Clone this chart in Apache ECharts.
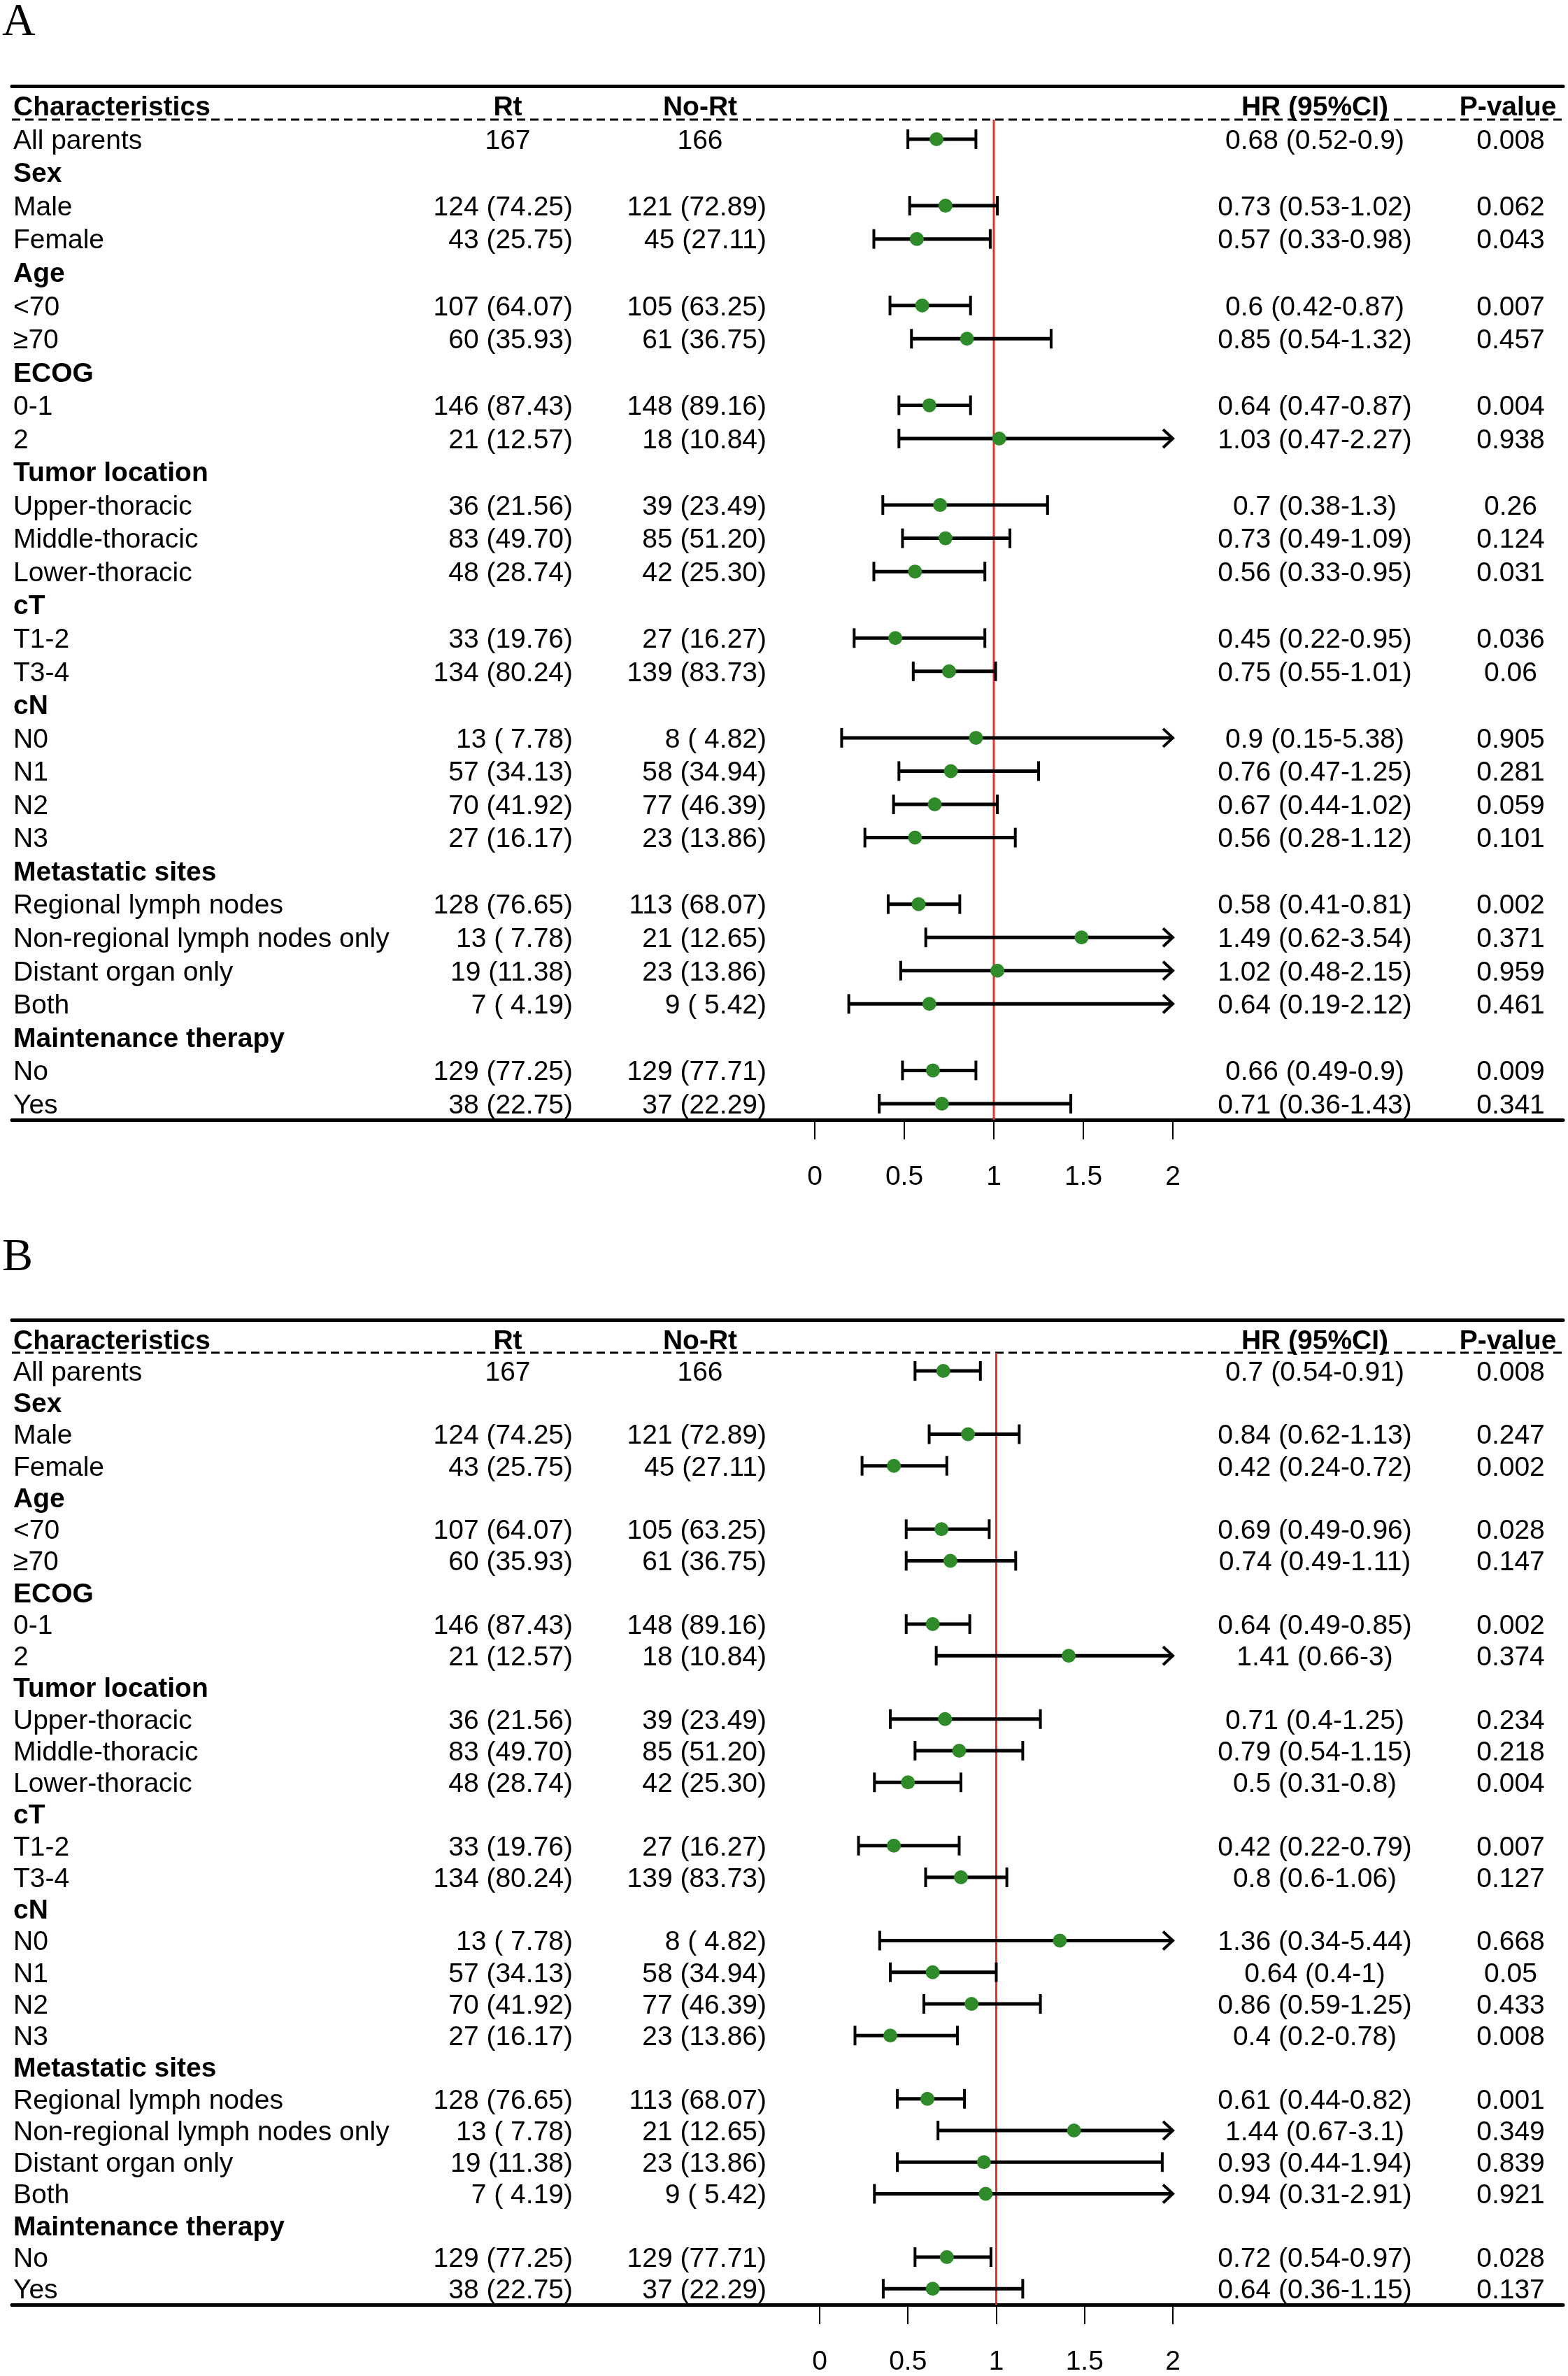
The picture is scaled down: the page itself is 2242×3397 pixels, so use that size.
<!DOCTYPE html>
<html><head><meta charset="utf-8">
<script src="https://cdn.jsdelivr.net/npm/echarts@6/dist/echarts.min.js"></script>
<style>html,body{margin:0;padding:0;background:#fff}#c{width:2242px;height:3397px}</style>
</head><body><div id="c"></div>
<script>
// ---------------- data ----------------
const headers = ['Characteristics', 'Rt', 'No-Rt', 'HR (95%CI)', 'P-value'];
const characteristics = ['All parents','Sex','Male','Female','Age','<70','≥70','ECOG','0-1','2',
  'Tumor location','Upper-thoracic','Middle-thoracic','Lower-thoracic','cT','T1-2','T3-4',
  'cN','N0','N1','N2','N3','Metastatic sites','Regional lymph nodes','Non-regional lymph nodes only',
  'Distant organ only','Both','Maintenance therapy','No','Yes'];
const groupHeaders = ['Sex','Age','ECOG','Tumor location','cT','cN','Metastatic sites','Maintenance therapy'];
const rtCounts = ['167','','124 (74.25)','43 (25.75)','','107 (64.07)','60 (35.93)','','146 (87.43)','21 (12.57)',
  '','36 (21.56)','83 (49.70)','48 (28.74)','','33 (19.76)','134 (80.24)','','13 ( 7.78)','57 (34.13)',
  '70 (41.92)','27 (16.17)','','128 (76.65)','13 ( 7.78)','19 (11.38)','7 ( 4.19)','','129 (77.25)','38 (22.75)'];
const noRtCounts = ['166','','121 (72.89)','45 (27.11)','','105 (63.25)','61 (36.75)','','148 (89.16)','18 (10.84)',
  '','39 (23.49)','85 (51.20)','42 (25.30)','','27 (16.27)','139 (83.73)','','8 ( 4.82)','58 (34.94)',
  '77 (46.39)','23 (13.86)','','113 (68.07)','21 (12.65)','23 (13.86)','9 ( 5.42)','','129 (77.71)','37 (22.29)'];

const hrA   = [0.68,null,0.73,0.57,null,0.6,0.85,null,0.64,1.03,null,0.7,0.73,0.56,null,0.45,0.75,null,0.9,0.76,0.67,0.56,null,0.58,1.49,1.02,0.64,null,0.66,0.71];
const lowA  = [0.52,null,0.53,0.33,null,0.42,0.54,null,0.47,0.47,null,0.38,0.49,0.33,null,0.22,0.55,null,0.15,0.47,0.44,0.28,null,0.41,0.62,0.48,0.19,null,0.49,0.36];
const highA = [0.9,null,1.02,0.98,null,0.87,1.32,null,0.87,2.27,null,1.3,1.09,0.95,null,0.95,1.01,null,5.38,1.25,1.02,1.12,null,0.81,3.54,2.15,2.12,null,0.9,1.43];
const pA    = ['0.008','','0.062','0.043','','0.007','0.457','','0.004','0.938','','0.26','0.124','0.031','','0.036','0.06','','0.905','0.281','0.059','0.101','','0.002','0.371','0.959','0.461','','0.009','0.341'];

const hrB   = [0.7,null,0.84,0.42,null,0.69,0.74,null,0.64,1.41,null,0.71,0.79,0.5,null,0.42,0.8,null,1.36,0.64,0.86,0.4,null,0.61,1.44,0.93,0.94,null,0.72,0.64];
const lowB  = [0.54,null,0.62,0.24,null,0.49,0.49,null,0.49,0.66,null,0.4,0.54,0.31,null,0.22,0.6,null,0.34,0.4,0.59,0.2,null,0.44,0.67,0.44,0.31,null,0.54,0.36];
const highB = [0.91,null,1.13,0.72,null,0.96,1.11,null,0.85,3,null,1.25,1.15,0.8,null,0.79,1.06,null,5.44,1,1.25,0.78,null,0.82,3.1,1.94,2.91,null,0.97,1.15];
const pB    = ['0.008','','0.247','0.002','','0.028','0.147','','0.002','0.374','','0.234','0.218','0.004','','0.007','0.127','','0.668','0.05','0.433','0.008','','0.001','0.349','0.839','0.921','','0.028','0.137'];

const tickValues = [0, 0.5, 1, 1.5, 2];
const axisMax = 2;
const panelLabels = ['A', 'B'];

// ---------------- layout ----------------
const FONT = '"Liberation Sans", Arial, sans-serif';
const FS = 39;
const TEXT_DY = 3;
const LEFT = 17, RIGHT_EDGE = 2235;
const COL = { charLeft: 19, rtCenter: 726, rtRight: 819, noRtCenter: 1001, noRtRight: 1096, hrCenter: 1880, pCenter: 2160 };
const panels = [
  { topLine: 123, dashY: 171, row0: 199, step: 47.55, bottom: 1601, x0: 1165, x2: 1677, labelTop: 0,
    hr: hrA, low: lowA, high: highA, p: pA },
  { topLine: 1887, dashY: 1934, row0: 1960, step: 45.25, bottom: 3295, x0: 1172, x2: 1677, labelTop: 1766,
    hr: hrB, low: lowB, high: highB, p: pB }
];

function fmt(v) { return String(v); }

const option = { animation: false, backgroundColor: '#fff', grid: [], xAxis: [], yAxis: [], series: [], graphic: [] };

panels.forEach((P, pi) => {
  const ppu = (P.x2 - P.x0) / 2;
  const xmin = -(P.x0 - LEFT) / ppu;
  const xmax = 2 + (RIGHT_EDGE - P.x2) / ppu;
  const ymin = (P.topLine - P.row0) / P.step;
  const ymax = (P.bottom - P.row0) / P.step;
  const yDash = (P.dashY - P.row0) / P.step;

  option.grid.push({ left: LEFT, width: RIGHT_EDGE - LEFT, top: P.topLine, height: P.bottom - P.topLine, containLabel: false });
  const xb = option.xAxis.length;
  option.xAxis.push({
    type: 'value', gridIndex: pi, min: xmin, max: xmax, position: 'bottom',
    axisLine: { show: true, onZero: false, lineStyle: { color: '#000', width: 5 } },
    axisTick: { show: true, customValues: tickValues, length: 28, lineStyle: { color: '#000', width: 2 } },
    axisLabel: { show: true, customValues: tickValues, margin: 63, fontSize: FS, fontFamily: FONT, color: '#000', formatter: v => fmt(v) },
    splitLine: { show: false }
  });
  option.xAxis.push({
    type: 'value', gridIndex: pi, min: xmin, max: xmax, position: 'top',
    axisLine: { show: true, onZero: false, lineStyle: { color: '#000', width: 5 } },
    axisTick: { show: false }, axisLabel: { show: false }, splitLine: { show: false }
  });
  const yi = option.yAxis.length;
  option.yAxis.push({ type: 'value', gridIndex: pi, inverse: true, min: ymin, max: ymax, show: false });

  // dashed header separator
  option.series.push({ type: 'line', xAxisIndex: xb, yAxisIndex: yi, symbol: 'none', silent: true,
    data: [[xmin, yDash], [xmax, yDash]], lineStyle: { color: '#000', width: 3, type: [12, 7] }, z: 1 });
  // red reference line at HR = 1
  option.series.push({ type: 'line', xAxisIndex: xb, yAxisIndex: yi, symbol: 'none', silent: true,
    data: [[1, yDash], [1, ymax]], lineStyle: { color: '#e0352b', width: 3 }, z: 2 });

  // table text
  const rows = [-1].concat(characteristics.map((_, i) => i));
  option.series.push({
    type: 'custom', xAxisIndex: xb, yAxisIndex: yi, silent: true, z: 5,
    data: rows.map(r => [0, r]),
    renderItem: (params, api) => {
      const r = api.value(1);
      const y = api.coord([0, r])[1] + TEXT_DY;
      const T = (text, x, align, bold) => ({ type: 'text', style: {
        text, x, y, align, verticalAlign: 'middle', fill: '#000',
        fontSize: FS, fontFamily: FONT, fontWeight: bold ? 'bold' : 'normal' } });
      if (r < 0) {
        return { type: 'group', children: [
          T(headers[0], COL.charLeft, 'left', true),
          T(headers[1], COL.rtCenter, 'center', true),
          T(headers[2], COL.noRtCenter, 'center', true),
          T(headers[3], COL.hrCenter, 'center', true),
          T(headers[4], COL.pCenter - 4, 'center', true)
        ] };
      }
      const name = characteristics[r];
      const isGroup = groupHeaders.includes(name);
      const ch = [T(name, COL.charLeft, 'left', isGroup)];
      if (!isGroup) {
        if (r === 0) {
          ch.push(T(rtCounts[r], COL.rtCenter, 'center'));
          ch.push(T(noRtCounts[r], COL.noRtCenter, 'center'));
        } else {
          ch.push(T(rtCounts[r], COL.rtRight, 'right'));
          ch.push(T(noRtCounts[r], COL.noRtRight, 'right'));
        }
        ch.push(T(fmt(P.hr[r]) + ' (' + fmt(P.low[r]) + '-' + fmt(P.high[r]) + ')', COL.hrCenter, 'center'));
        ch.push(T(P.p[r], COL.pCenter, 'center'));
      }
      return { type: 'group', children: ch };
    }
  });

  // CI lines
  const ciData = [];
  P.hr.forEach((h, i) => { if (h !== null) ciData.push([P.low[i], P.high[i], i]); });
  option.series.push({
    type: 'custom', xAxisIndex: xb, yAxisIndex: yi, silent: true, z: 6,
    data: ciData,
    renderItem: (params, api) => {
      const lo = api.value(0), hi = api.value(1), r = api.value(2);
      const a = api.coord([lo, r]);
      const b = api.coord([Math.min(hi, axisMax), r]);
      const y = a[1];
      const st = { stroke: '#000', lineWidth: 5 };
      const ch = [
        { type: 'line', shape: { x1: a[0], y1: y, x2: b[0], y2: y }, style: st },
        { type: 'line', shape: { x1: a[0], y1: y - 14, x2: a[0], y2: y + 14 }, style: { stroke: '#000', lineWidth: 4 } }
      ];
      if (hi > axisMax) {
        ch.push({ type: 'polyline', shape: { points: [[b[0] - 14, y - 13], [b[0], y], [b[0] - 14, y + 13]] },
          style: { stroke: '#000', lineWidth: 4, fill: null } });
      } else {
        ch.push({ type: 'line', shape: { x1: b[0], y1: y - 14, x2: b[0], y2: y + 14 }, style: { stroke: '#000', lineWidth: 4 } });
      }
      return { type: 'group', children: ch };
    }
  });

  // HR points
  const ptData = [];
  P.hr.forEach((h, i) => { if (h !== null) ptData.push([h, i]); });
  option.series.push({
    type: 'scatter', xAxisIndex: xb, yAxisIndex: yi, silent: true, z: 7,
    data: ptData, symbol: 'circle', symbolSize: 20,
    itemStyle: { color: '#2f8a2a', opacity: 1 }
  });

  option.graphic.push({ type: 'text', left: 3, top: P.labelTop,
    style: { text: panelLabels[pi], fontSize: 66, fontFamily: '"Liberation Serif", "Times New Roman", serif', fill: '#000' } });
});

const chart = echarts.init(document.getElementById('c'), null, { renderer: 'canvas' });
chart.setOption(option);
</script>
</body></html>
